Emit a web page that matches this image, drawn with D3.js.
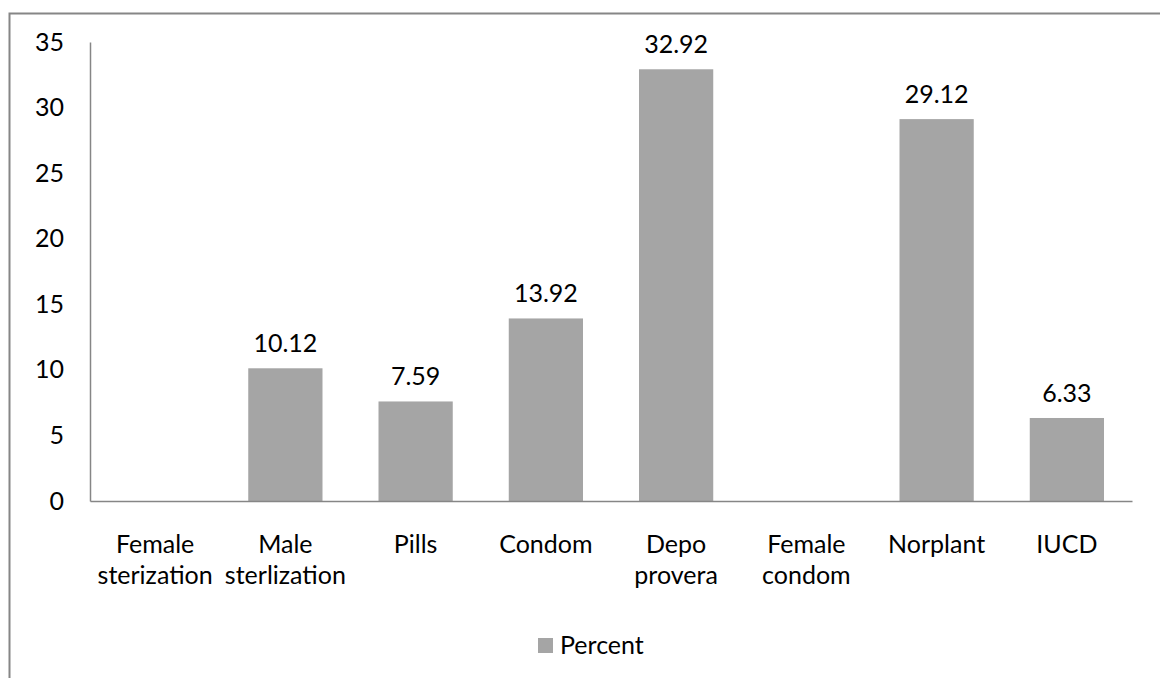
<!DOCTYPE html>
<html>
<head>
<meta charset="utf-8">
<script src="https://cdn.jsdelivr.net/npm/d3@7"></script>
<style>
  html, body { margin: 0; padding: 0; background: #fff; }
  svg { display: block; }
  text { font-family: Lato, "Open Sans", sans-serif; fill: #000; }
</style>
</head>
<body>
<svg id="chart" width="1160" height="678"></svg>
<script>
const categories = ["Female\nsterization", "Male\nsterlization", "Pills", "Condom", "Depo\nprovera", "Female\ncondom", "Norplant", "IUCD"];
const percentValues = [null, 10.12, 7.59, 13.92, 32.92, null, 29.12, 6.33];
const yTicks = [0, 5, 10, 15, 20, 25, 30, 35];
const seriesName = "Percent";

const svg = d3.select("#chart");
const W = 1160, H = 678;
const plot = { left: 90, right: 1132, top: 42, bottom: 501 };
const fontSize = 25;
const barColor = "#a5a5a5";
const axisColor = "#868686";

// outer border (open at right / bottom edges of the image)
svg.append("path")
  .attr("d", `M9.5,${H + 2} L9.5,13.5 L${W + 2},13.5`)
  .attr("fill", "none")
  .attr("stroke", axisColor)
  .attr("stroke-width", 2);

const x = d3.scaleBand()
  .domain(categories)
  .range([plot.left, plot.right])
  .paddingInner(0.43)
  .paddingOuter(0.215);

const y = d3.scaleLinear().domain([0, 35]).range([plot.bottom, plot.top]);

// y axis
const yAxis = d3.axisLeft(y).tickValues(yTicks).tickSize(0).tickPadding(26).tickFormat(d3.format("d"));
const gy = svg.append("g").attr("transform", `translate(${plot.left},0)`).call(yAxis);
gy.select(".domain").attr("stroke", axisColor).attr("stroke-width", 1.5);
gy.selectAll("text").attr("font-size", fontSize).attr("font-family", "Lato, 'Open Sans', sans-serif").attr("fill", "#000");

// bars
const data = categories.map((c, i) => ({ c, v: percentValues[i] }));
svg.append("g").selectAll("rect")
  .data(data.filter(d => d.v !== null))
  .join("rect")
  .attr("x", d => x(d.c))
  .attr("y", d => y(d.v))
  .attr("width", x.bandwidth())
  .attr("height", d => y(0) - y(d.v))
  .attr("fill", barColor);

// x axis line
const xAxis = d3.axisBottom(x).tickSize(0).tickFormat("");
const gx = svg.append("g").attr("transform", `translate(0,${plot.bottom})`).call(xAxis);
gx.select(".domain").attr("stroke", axisColor).attr("stroke-width", 1.5);

// category labels
const lab = svg.append("g").selectAll("text")
  .data(categories)
  .join("text")
  .attr("x", d => x(d) + x.bandwidth() / 2)
  .attr("y", 544)
  .attr("text-anchor", "middle")
  .attr("font-size", fontSize);
lab.each(function(d) {
  const parts = d.split("\n");
  d3.select(this).selectAll("tspan")
    .data(parts)
    .join("tspan")
    .attr("x", x(d) + x.bandwidth() / 2)
    .attr("dy", (p, i) => i === 0 ? "0.35em" : 31)
    .text(p => p);
});

// data labels
svg.append("g").selectAll("text")
  .data(data.filter(d => d.v !== null))
  .join("text")
  .attr("x", d => x(d.c) + x.bandwidth() / 2)
  .attr("y", d => y(d.v) - 25)
  .attr("dy", "0.35em")
  .attr("text-anchor", "middle")
  .attr("font-size", fontSize)
  .text(d => d3.format(".2f")(d.v));

// legend
const lg = svg.append("g").attr("transform", "translate(538,638)");
lg.append("rect").attr("width", 15).attr("height", 15).attr("fill", barColor);
lg.append("text").attr("x", 22).attr("y", 7.5).attr("dy", "0.35em").attr("font-size", fontSize).text(seriesName);
</script>
</body>
</html>
